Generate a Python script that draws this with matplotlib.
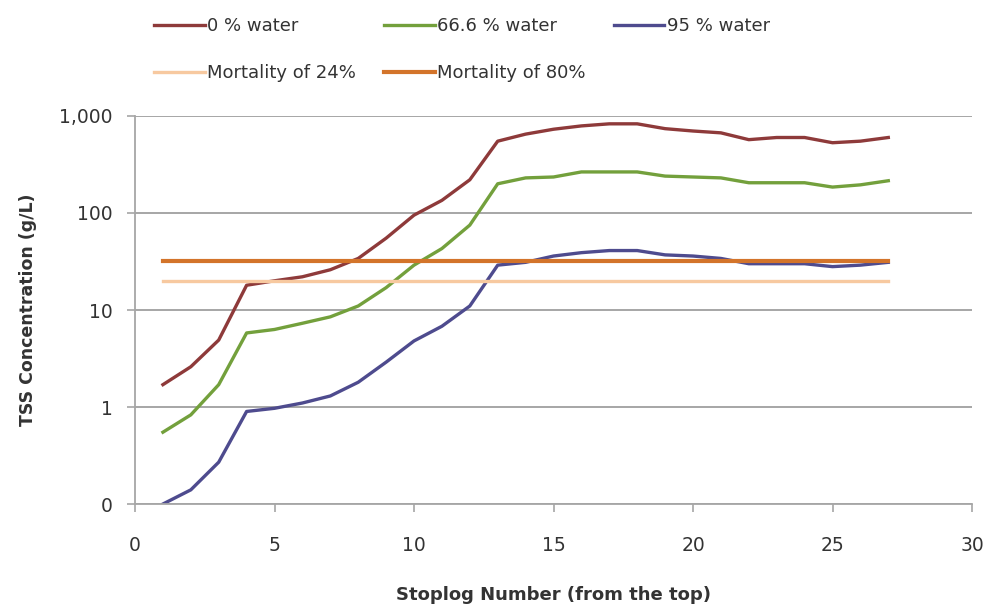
import numpy as np
import matplotlib.pyplot as plt
from matplotlib.ticker import FixedLocator, FixedFormatter, NullLocator

# stoplog numbers and TSS concentration (g/L)
stoplog = list(range(1, 28))
water_0 = [1.7, 2.6, 4.9, 18, 20, 22, 26, 34, 55, 95, 135, 220, 550, 650, 730,
           790, 830, 830, 740, 700, 670, 570, 600, 600, 530, 550, 600]
water_66 = [0.55, 0.83, 1.7, 5.8, 6.3, 7.3, 8.5, 11, 17, 29, 43, 75, 200, 230, 235,
            265, 265, 265, 240, 235, 230, 205, 205, 205, 185, 195, 215]
water_95 = [0.1, 0.14, 0.27, 0.9, 0.97, 1.1, 1.3, 1.8, 2.9, 4.8, 6.8, 11, 29, 31, 36,
            39, 41, 41, 37, 36, 34, 30, 30, 30, 28, 29, 31]
mort_24 = 20
mort_80 = 32

y_ticks = [0.1, 1, 10, 100, 1000]
y_labels = ["0", "1", "10", "100", "1,000"]

fig = plt.figure(figsize=(9.87, 6.05), dpi=100)
ax = fig.add_axes([0.1368, 0.1669, 0.848, 0.6414])

l0, = ax.plot(stoplog, water_0, color="#8E3A3A", lw=2.4, label="0 % water")
l66, = ax.plot(stoplog, water_66, color="#73A03C", lw=2.4, label="66.6 % water")
l95, = ax.plot(stoplog, water_95, color="#4E4B8E", lw=2.4, label="95 % water")
m24, = ax.plot([stoplog[0], stoplog[-1]], [mort_24, mort_24], color="#F7C9A0", lw=2.4,
               label="Mortality of 24%")
m80, = ax.plot([stoplog[0], stoplog[-1]], [mort_80, mort_80], color="#D3742A", lw=3.0,
               label="Mortality of 80%")

ax.set_yscale("log")
ax.set_ylim(0.1, 1000)
ax.set_xlim(0, 30)
ax.yaxis.set_major_locator(FixedLocator(y_ticks))
ax.yaxis.set_major_formatter(FixedFormatter(y_labels))
ax.yaxis.set_minor_locator(NullLocator())
ax.set_xticks(range(0, 31, 5))

ax.grid(axis="y", color="#a6a6a6", lw=1.4)
ax.set_axisbelow(True)
for s in ["top", "right"]:
    ax.spines[s].set_visible(False)
for s in ["left", "bottom"]:
    ax.spines[s].set_color("#a6a6a6")
    ax.spines[s].set_linewidth(1.3)
ax.tick_params(axis="both", colors="#a6a6a6", length=6, width=1.2, labelsize=13.5,
               labelcolor="#333333")
ax.tick_params(axis="x", pad=17)
ax.tick_params(axis="y", pad=10)

ax.set_xlabel("Stoplog Number (from the top)", fontsize=13, fontweight="bold",
              color="#333333", labelpad=22)
ax.set_ylabel("TSS Concentration (g/L)", fontsize=12.5, fontweight="bold",
              color="#333333", labelpad=16)

# order so that column-major filling gives the row layout of the original
handles = [l0, m24, l66, m80, l95]
fig.legend(handles=handles, labels=[h.get_label() for h in handles], ncol=3,
           loc="upper left", bbox_to_anchor=(0.156, 0.972), frameon=False,
           borderpad=0, borderaxespad=0,
           fontsize=13, handlelength=2.8, handletextpad=0.15, columnspacing=1.55,
           labelspacing=1.6, labelcolor="#333333")

fig.savefig("out.png", dpi=100)
